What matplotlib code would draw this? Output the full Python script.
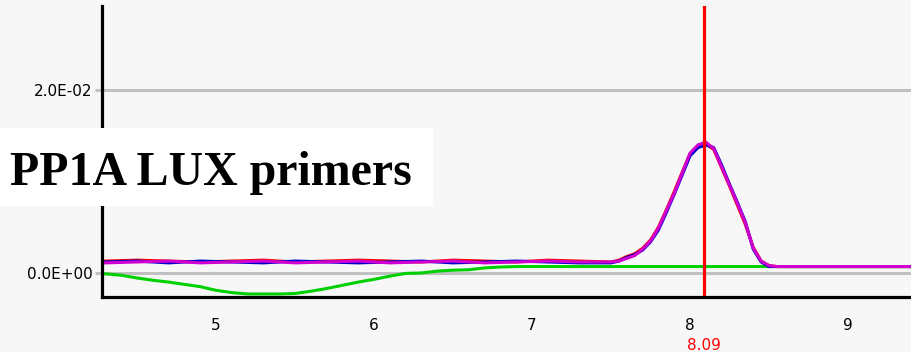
import numpy as np
import matplotlib
matplotlib.use("Agg")
import matplotlib.pyplot as plt
from matplotlib.patches import Rectangle

# Derivative melt curves (-dF/dT), values in units of 1e-3
temp = np.array([4.3, 4.5, 4.7, 4.9, 5.1, 5.3, 5.5, 5.7, 5.9, 6.1, 6.3, 6.5, 6.7, 6.9, 7.1, 7.3,
                 7.50, 7.55, 7.60, 7.65, 7.70, 7.75, 7.80, 7.85, 7.90, 7.95, 8.00, 8.05,
                 8.10, 8.15, 8.20, 8.25, 8.30, 8.35, 8.40, 8.45, 8.50, 8.55, 8.60,
                 8.8, 9.0, 9.2, 9.4])
rep_blue = [1.2, 1.3, 1.1, 1.3, 1.2, 1.1, 1.3, 1.2, 1.1, 1.2, 1.3, 1.1, 1.2, 1.3, 1.2, 1.1,
            1.1, 1.3, 1.7, 2.0, 2.5, 3.4, 4.7, 6.6, 8.6, 10.7, 12.8, 13.7,
            14.0, 13.7, 11.8, 9.7, 7.7, 5.6, 2.6, 1.2, 0.7, 0.7, 0.7,
            0.7, 0.7, 0.7, 0.7]
rep_red = [1.3, 1.4, 1.3, 1.2, 1.3, 1.4, 1.2, 1.3, 1.4, 1.3, 1.2, 1.4, 1.3, 1.2, 1.4, 1.3,
           1.2, 1.4, 1.8, 2.1, 2.7, 3.6, 5.0, 6.9, 8.9, 11.0, 13.0, 13.8,
           14.1, 13.5, 11.5, 9.5, 7.4, 5.3, 2.8, 1.3, 0.8, 0.7, 0.7,
           0.7, 0.7, 0.7, 0.7]
rep_magenta = [1.1, 1.2, 1.3, 1.1, 1.2, 1.3, 1.1, 1.2, 1.3, 1.1, 1.2, 1.3, 1.1, 1.2, 1.3, 1.2,
               1.2, 1.3, 1.6, 1.9, 2.6, 3.5, 4.9, 6.8, 8.7, 10.9, 13.1, 14.0,
               14.3, 13.6, 11.6, 9.6, 7.6, 5.5, 2.7, 1.3, 0.8, 0.7, 0.7,
               0.7, 0.7, 0.7, 0.7]

# No-template control
ntc_temp = np.round(np.arange(4.3, 9.45, 0.1), 1)
ntc = [-0.10, -0.25, -0.55, -0.80, -1.00, -1.25, -1.50, -1.90, -2.15, -2.30,
       -2.30, -2.30, -2.25, -2.00, -1.70, -1.35, -1.00, -0.70, -0.35, -0.05,
       0.00, 0.20, 0.30, 0.35, 0.55, 0.65, 0.70, 0.70, 0.70, 0.70,
       0.70, 0.70, 0.70, 0.70, 0.70, 0.70, 0.70, 0.70, 0.70, 0.70,
       0.70, 0.70, 0.70, 0.70, 0.70, 0.70, 0.70, 0.70, 0.70, 0.70,
       0.70, 0.70]

tm = 8.09
x_ticks = [5, 6, 7, 8, 9]
x_ticklabels = ["5", "6", "7", "8", "9"]
y_ticks = [0.0, 0.02]
y_ticklabels = ["0.0E+00", "2.0E-02"]
title = "PP1A LUX primers"

bg = "#f7f7f7"
grid_col = "#c0c0c0"

fig = plt.figure(figsize=(9.12, 3.52), dpi=100, facecolor=bg)
ax = fig.add_axes([102 / 912, 55 / 352, 1 - 102 / 912, 291 / 352])
ax.set_facecolor(bg)

scale = 1e-3
lw = 2.2
ax.plot(ntc_temp, np.array(ntc) * scale, color="#00d000", lw=lw, zorder=3)
ax.plot(temp, np.array(rep_red) * scale, color="#ff0000", lw=lw, zorder=4)
ax.plot(temp, np.array(rep_blue) * scale, color="#0000d0", lw=lw, zorder=5)
ax.plot(temp, np.array(rep_magenta) * scale, color="#d000d0", lw=lw, zorder=6)
ax.axvline(tm, color="#ff0000", lw=2.3, zorder=7)

ax.set_xlim(4.278, 9.405)
ax.set_ylim(-0.00263, 0.02919)

# axes frame
for side in ("top", "right"):
    ax.spines[side].set_visible(False)
for side in ("left", "bottom"):
    ax.spines[side].set_linewidth(2.3)
    ax.spines[side].set_color("black")
    ax.spines[side].set_zorder(8)

ax.set_xticks(x_ticks)
ax.set_xticklabels(x_ticklabels)
ax.set_xticks([6, 7], minor=True)
ax.set_yticks(y_ticks)
ax.set_yticklabels(y_ticklabels)
ax.tick_params(axis="x", which="major", length=0, pad=15, labelsize=11)
ax.tick_params(axis="x", which="minor", length=7.5, width=2.2, color=grid_col)
ax.tick_params(axis="y", which="major", length=5, width=2.2, color=grid_col, pad=2, labelsize=11)
ax.grid(axis="x", which="minor", color=grid_col, lw=2.2, zorder=1)
ax.grid(axis="y", which="major", color=grid_col, lw=2.2, zorder=1)
ax.set_axisbelow(True)

# melting temperature label under the axis
fig.text(704 / 912, 1 - 338 / 352, f"{tm:.2f}", color="#ff0000", ha="center", va="top",
         fontsize=11)

# title box
fig.patches.append(Rectangle((0, 146 / 352), 433 / 912, 78 / 352, transform=fig.transFigure,
                             facecolor="white", edgecolor="none", zorder=20))
fig.text(10 / 912, 1 - 185 / 352, title, family="Liberation Serif", weight="bold",
         fontsize=34.5, ha="left", va="baseline", zorder=21)

fig.savefig("out.png", dpi=100, facecolor=bg)
